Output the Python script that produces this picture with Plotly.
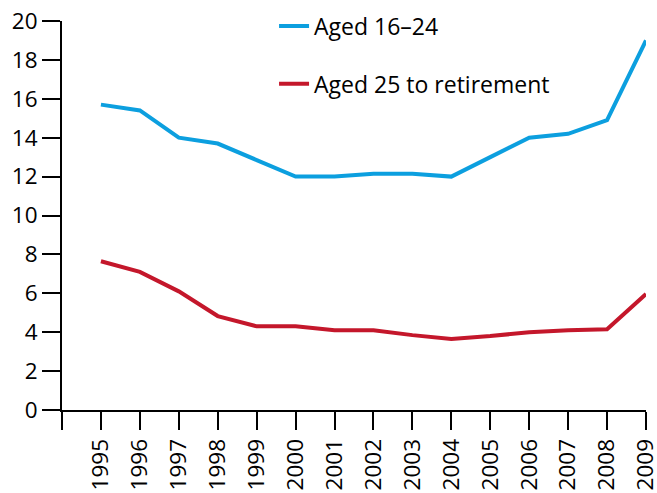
import plotly.graph_objects as go

years = list(range(1995, 2010))
aged_16_24 = [15.7, 15.4, 14.0, 13.7, 12.85, 12.0, 12.0, 12.15, 12.15, 12.0, 13.0, 14.0, 14.2, 14.9, 19.0]
aged_25_ret = [7.65, 7.1, 6.1, 4.83, 4.3, 4.3, 4.1, 4.1, 3.85, 3.65, 3.8, 4.0, 4.1, 4.15, 5.96]

tick_years = [1994] + years
tick_text = [""] + [str(y) for y in years]

fig = go.Figure()
fig.add_trace(go.Scatter(
    x=years, y=aged_16_24, mode="lines", name="Aged 16–24",
    line=dict(color="#0c9fdf", width=4), cliponaxis=False, legendgroup="a"
))
fig.add_trace(go.Scatter(
    x=years, y=aged_25_ret, mode="lines", name="Aged 25 to retirement",
    line=dict(color="#c4172b", width=4), cliponaxis=False, legendgroup="b"
))

# plot box: x 62..646 px, y 21..410 px (paper 657x493, bottom margin 83)
fig.update_layout(
    width=657, height=493,
    margin=dict(l=0, r=0, t=0, b=83, autoexpand=False),
    paper_bgcolor="white", plot_bgcolor="white",
    font=dict(family="Open Sans", size=22.5, color="black"),
    showlegend=True,
    legend=dict(
        x=278 / 657 - 0.006, y=0.989, xanchor="left", yanchor="top",
        bgcolor="rgba(0,0,0,0)", tracegroupgap=25,
        font=dict(size=23),
    ),
)
fig.update_xaxes(
    domain=[62 / 657, 646 / 657],
    range=[1994, 2009], tickmode="array", tickvals=tick_years, ticktext=tick_text,
    tickangle=-90, ticks="outside", ticklen=18, tickwidth=2, tickcolor="black",
    ticklabeloverflow="allow",
    showline=True, linewidth=2, linecolor="black", showgrid=False, zeroline=False,
    automargin=False,
)
fig.update_yaxes(
    domain=[0, 389 / 410],
    range=[0, 20], tickmode="array", tickvals=list(range(0, 21, 2)),
    ticks="outside", ticklen=18, tickwidth=2, tickcolor="black",
    ticklabeloverflow="allow",
    showline=True, linewidth=2, linecolor="black", showgrid=False, zeroline=False,
    automargin=False,
)

# drop the browser's default 8px body margin so the figure fills the window
fig.write_html("out.html", config={"displayModeBar": False},
               post_script="document.body.style.margin='0';")
